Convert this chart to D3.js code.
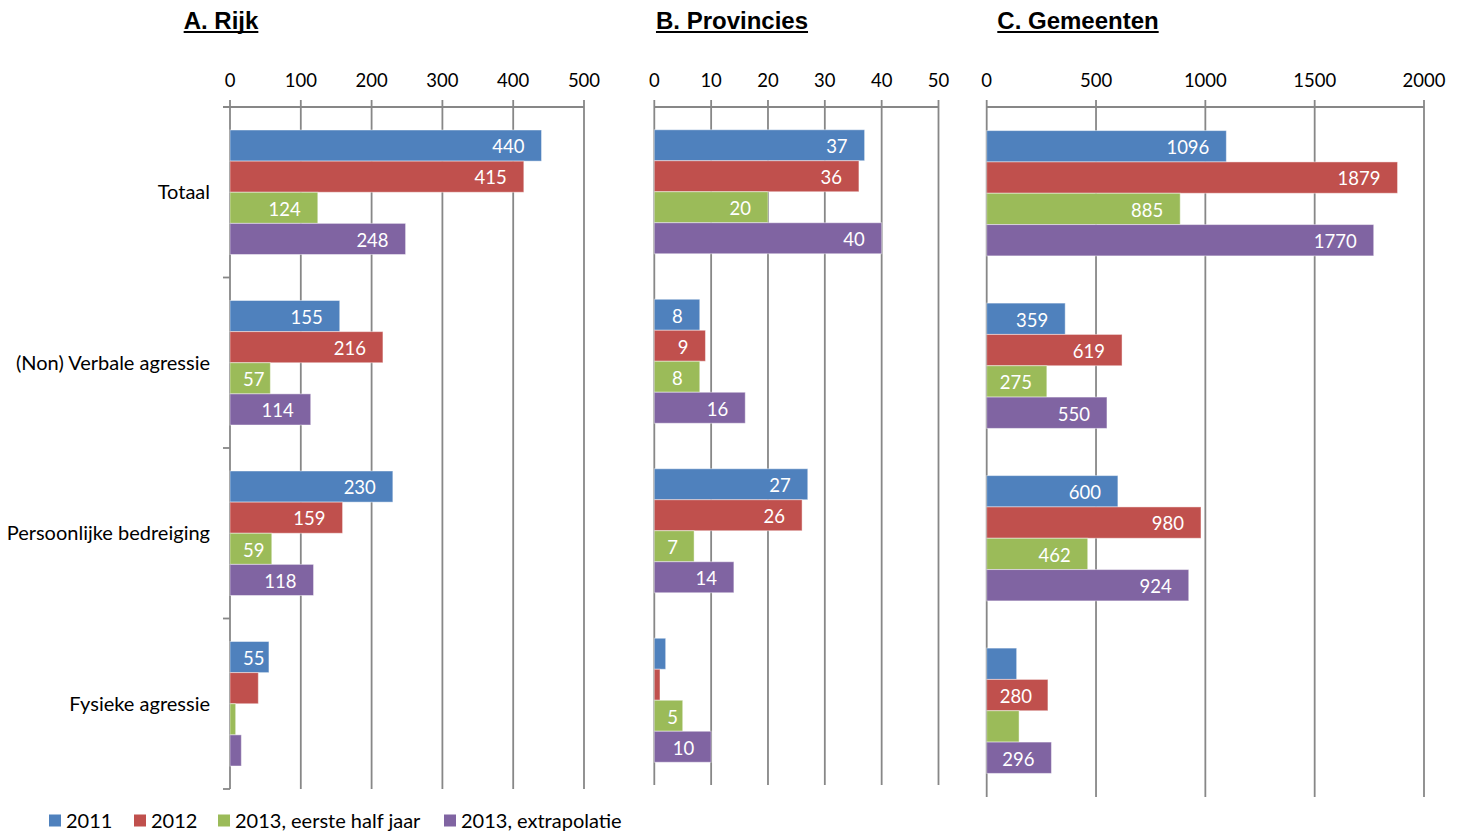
<!DOCTYPE html>
<html>
<head>
<meta charset="utf-8">
<script src="https://cdn.jsdelivr.net/npm/d3@7/dist/d3.min.js"></script>
<style>
  html, body { margin: 0; padding: 0; background: #fff; }
  svg { display: block; }
  text { font-family: Lato, "Open Sans", sans-serif; }
</style>
</head>
<body>
<svg id="chart" width="1462" height="833"></svg>
<script>
// ---------- DATA ----------
const categories = ["Totaal", "(Non) Verbale agressie", "Persoonlijke bedreiging", "Fysieke agressie"];
const seriesNames = ["2011", "2012", "2013, eerste half jaar", "2013, extrapolatie"];
const seriesColors = ["#4F81BD", "#C0504D", "#9BBB59", "#8064A2"];

const rijk2011 = [440, 155, 230, 55];
const rijk2012 = [415, 216, 159, 40];
const rijk2013half = [124, 57, 59, 8];
const rijk2013extra = [248, 114, 118, 16];

const prov2011 = [37, 8, 27, 2];
const prov2012 = [36, 9, 26, 1];
const prov2013half = [20, 8, 7, 5];
const prov2013extra = [40, 16, 14, 10];

const gem2011 = [1096, 359, 600, 137];
const gem2012 = [1879, 619, 980, 280];
const gem2013half = [885, 275, 462, 148];
const gem2013extra = [1770, 550, 924, 296];

const rijkTicks = [0, 100, 200, 300, 400, 500];
const provTicks = [0, 10, 20, 30, 40, 50];
const gemTicks = [0, 500, 1000, 1500, 2000];

const titles = ["A. Rijk", "B. Provincies", "C. Gemeenten"];

// labels not displayed in the original: [categoryIndex, seriesIndex]
const rijkHidden = [[3, 1], [3, 2], [3, 3]];
const provHidden = [[3, 0], [3, 1]];
const gemHidden = [[3, 0], [3, 2]];

// ---------- LAYOUT ----------
const panels = [
  { title: titles[0], titleX: 221, series: [rijk2011, rijk2012, rijk2013half, rijk2013extra], ticks: rijkTicks,
    hidden: rijkHidden, x0: 230, x1: 584, bottom: 789, pad: 23, catAxis: true },
  { title: titles[1], titleX: 732, series: [prov2011, prov2012, prov2013half, prov2013extra], ticks: provTicks,
    hidden: provHidden, x0: 654.3, x1: 938.5, bottom: 785, pad: 22.75, catAxis: false },
  { title: titles[2], titleX: 1078, series: [gem2011, gem2012, gem2013half, gem2013extra], ticks: gemTicks,
    hidden: gemHidden, x0: 986.7, x1: 1424, bottom: 797, pad: 23.6, catAxis: false }
];

const axisY = 107;
const tickTop = 100;
const gridColor = "#878787";
const legendX = [49, 134, 218, 444];

const svg = d3.select("#chart");

panels.forEach(p => {
  const g = svg.append("g");
  const x = d3.scaleLinear().domain([p.ticks[0], p.ticks[p.ticks.length - 1]]).range([p.x0, p.x1]);
  const y0 = d3.scaleBand().domain(categories).range([axisY, p.bottom]);
  const y1 = d3.scaleBand().domain(seriesNames).range([p.pad, y0.bandwidth() - p.pad]);

  // Title with underline
  const t = g.append("text")
    .attr("x", p.titleX).attr("y", 29)
    .attr("text-anchor", "middle")
    .style("font-family", "'Liberation Sans', Arial, sans-serif")
    .style("font-weight", "bold").style("font-size", "24px").style("fill", "#000")
    .text(p.title);
  const tw = t.node().getComputedTextLength();
  g.append("rect").attr("x", p.titleX - tw / 2).attr("y", 31).attr("width", tw).attr("height", 2).attr("fill", "#000");

  // Tick labels
  g.selectAll(".tl").data(p.ticks).enter().append("text")
    .attr("x", d => x(d)).attr("y", 80).attr("dy", "0.36em")
    .attr("text-anchor", "middle").style("font-size", "18.5px").style("fill", "#000")
    .text(d => d);

  // Gridlines (incl. ticks above axis)
  g.selectAll(".gl").data(p.ticks).enter().append("line")
    .attr("x1", d => x(d)).attr("x2", d => x(d))
    .attr("y1", tickTop).attr("y2", p.bottom)
    .attr("stroke", gridColor).attr("stroke-width", 1.8);

  // Horizontal axis line
  g.append("line")
    .attr("x1", p.catAxis ? p.x0 - 7 : p.x0).attr("x2", p.x1)
    .attr("y1", axisY).attr("y2", axisY)
    .attr("stroke", gridColor).attr("stroke-width", 1.8);

  // Category axis ticks + labels
  if (p.catAxis) {
    const edges = categories.map(c => y0(c) + y0.bandwidth());
    g.selectAll(".ct").data(edges).enter().append("line")
      .attr("x1", p.x0 - 7).attr("x2", p.x0)
      .attr("y1", d => d).attr("y2", d => d)
      .attr("stroke", gridColor).attr("stroke-width", 1.8);
    g.selectAll(".cl").data(categories).enter().append("text")
      .attr("x", p.x0 - 20).attr("y", c => y0(c) + y0.bandwidth() / 2).attr("dy", "0.36em")
      .attr("text-anchor", "end").style("font-size", "20px").style("fill", "#000")
      .text(c => c);
  }

  // Bars
  const rows = [];
  categories.forEach((c, ci) => {
    seriesNames.forEach((s, si) => {
      rows.push({ c, ci, s, si, v: p.series[si][ci] });
    });
  });
  const hiddenSet = new Set(p.hidden.map(h => h[0] + "-" + h[1]));

  g.selectAll(".bar").data(rows).enter().append("rect")
    .attr("x", x(0))
    .attr("y", d => y0(d.c) + y1(d.s))
    .attr("width", d => x(d.v) - x(0))
    .attr("height", y1.bandwidth())
    .attr("fill", d => seriesColors[d.si])
    .attr("stroke", "#ffffff").attr("stroke-opacity", 0.45).attr("stroke-width", 1);

  // Value labels (inside end)
  const lbl = g.selectAll(".vl").data(rows.filter(d => !hiddenSet.has(d.ci + "-" + d.si))).enter().append("text")
    .attr("y", d => y0(d.c) + y1(d.s) + y1.bandwidth() / 2).attr("dy", "0.42em")
    .attr("text-anchor", "start").style("font-size", "18.5px").style("fill", "#fff")
    .text(d => d.v);
  lbl.each(function (d) {
    const w = this.getComputedTextLength();
    let left = x(d.v) - 17 - w;
    if (left < x(0) + 13) left = x(0) + 13;
    d3.select(this).attr("x", left);
  });
});

// Legend
const ly = 820.5;
seriesNames.forEach((s, i) => {
  const lx = legendX[i];
  svg.append("rect").attr("x", lx).attr("y", ly - 6).attr("width", 12).attr("height", 12).attr("fill", seriesColors[i]);
  svg.append("text").attr("x", lx + 17).attr("y", ly).attr("dy", "0.36em")
    .style("font-size", "20px").style("fill", "#000").text(s);
});
</script>
</body>
</html>
